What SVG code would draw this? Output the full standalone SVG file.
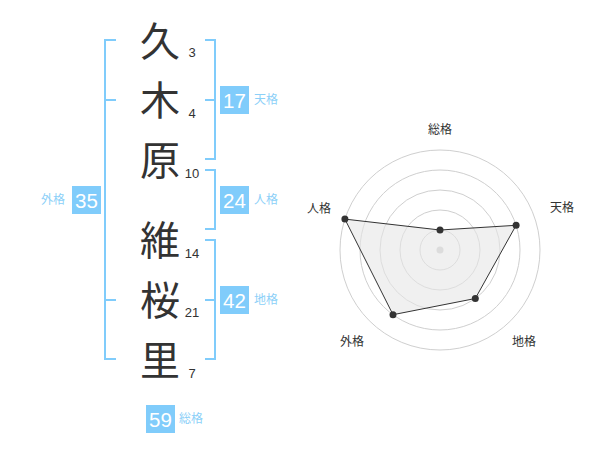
<svg xmlns="http://www.w3.org/2000/svg" width="600" height="470" viewBox="0 0 600 470">
<style>
.k{font-family:"Noto Sans CJK JP","Noto Sans CJK SC",sans-serif;font-size:40px;fill:#333;text-anchor:middle}
.n{font-family:"Liberation Sans",Arial,sans-serif;font-size:13px;fill:#333;text-anchor:middle}
.br{fill:none;stroke:#80ccfb;stroke-width:2}
.box{fill:#80ccfb}
.bn{font-family:"Liberation Sans",Arial,sans-serif;font-size:20.5px;fill:#fff;text-anchor:middle}
.bl{font-family:"Noto Sans CJK JP",sans-serif;font-size:12px;fill:#8cd0f8}
.rl{font-family:"Noto Sans CJK JP",sans-serif;font-size:12px;fill:#333;text-anchor:middle}
.ring{fill:none;stroke:#cfcfcf;stroke-width:1}
.pt{fill:#333}
</style>
<g id="chars">
<text class="k" x="160" y="56">久</text>
<text class="k" x="160" y="115">木</text>
<text class="k" x="160" y="175">原</text>
<text class="k" x="160" y="255">維</text>
<text class="k" x="160" y="315">桜</text>
<text class="k" x="160" y="375">里</text>
<text class="n" x="192" y="57">3</text>
<text class="n" x="192" y="118">4</text>
<text class="n" x="192" y="178">10</text>
<text class="n" x="192" y="258">14</text>
<text class="n" x="192" y="317">21</text>
<text class="n" x="192" y="378">7</text>
</g>
<g id="connectors">
<path class="br" d="M116,40H105V359H116M105,100H116M105,300H116"/>
<path class="br" d="M205,40H215V159H205M205,100H215"/>
<path class="br" d="M205,170H215V229H205"/>
<path class="br" d="M205,240H215V359H205M205,300H215"/>
</g>
<g id="tenkaku">
<rect class="box" x="220" y="86" width="29" height="28"/>
<text class="bn" x="234.5" y="107.5">17</text>
<text class="bl" x="254" y="104">天格</text>
</g>
<g id="jinkaku">
<rect class="box" x="220" y="186" width="29" height="28"/>
<text class="bn" x="234.5" y="207.5">24</text>
<text class="bl" x="254" y="204">人格</text>
</g>
<g id="chikaku">
<rect class="box" x="220" y="286" width="29" height="28"/>
<text class="bn" x="234.5" y="307.5">42</text>
<text class="bl" x="254" y="304">地格</text>
</g>
<g id="gaikaku">
<rect class="box" x="72" y="186" width="29" height="28"/>
<text class="bn" x="86.5" y="207.5">35</text>
<text class="bl" x="41" y="204">外格</text>
</g>
<g id="soukaku">
<rect class="box" x="146" y="405" width="29" height="28"/>
<text class="bn" x="160.5" y="426.5">59</text>
<text class="bl" x="179" y="423">総格</text>
</g>
<g id="radar">
<circle class="ring" cx="440" cy="250" r="20"/>
<circle class="ring" cx="440" cy="250" r="40"/>
<circle class="ring" cx="440" cy="250" r="60"/>
<circle class="ring" cx="440" cy="250" r="80"/>
<circle class="ring" cx="440" cy="250" r="100"/>
<circle cx="440" cy="250" r="3.5" fill="#ccc"/>
<polygon points="440,230 516.1,225.3 475.3,298.5 393,314.7 344.9,219.1" fill="#e6e6e6" fill-opacity="0.6" stroke="#333" stroke-width="1"/>
<circle class="pt" cx="440" cy="230" r="3.5"/>
<circle class="pt" cx="516.1" cy="225.3" r="3.5"/>
<circle class="pt" cx="475.3" cy="298.5" r="3.5"/>
<circle class="pt" cx="393" cy="314.7" r="3.5"/>
<circle class="pt" cx="344.9" cy="219.1" r="3.5"/>
<text class="rl" x="440" y="134">総格</text>
<text class="rl" x="562" y="212">天格</text>
<text class="rl" x="524" y="346">地格</text>
<text class="rl" x="352" y="346">外格</text>
<text class="rl" x="319" y="213">人格</text>
</g>
</svg>
